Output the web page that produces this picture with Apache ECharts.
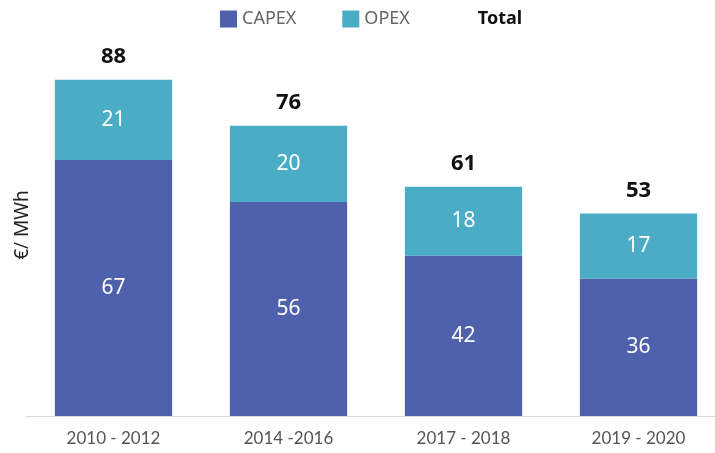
<!DOCTYPE html>
<html>
<head>
<meta charset="utf-8">
<title>CAPEX / OPEX</title>
<script src="https://cdn.jsdelivr.net/npm/echarts@6/dist/echarts.min.js"></script>
<style>
  html, body { margin: 0; padding: 0; background: #fff; }
  #chart { width: 715px; height: 453px; }
</style>
</head>
<body>
<div id="chart"></div>
<script>
var periods = ['2010 - 2012', '2014 -2016', '2017 - 2018', '2019 - 2020'];
var capex = [67, 56, 42, 36];
var opex = [21, 20, 18, 17];
var totals = [88, 76, 61, 53];

var myChart = echarts.init(document.getElementById('chart'));
var option = {
  animation: false,
  textStyle: { fontFamily: 'Noto Sans' },
  legend: {
    top: 5,
    left: 215,
    icon: 'rect',
    itemWidth: 17,
    itemHeight: 17,
    itemGap: 46,
    textStyle: { fontSize: 18, color: '#666', fontFamily: 'Noto Sans' },
    data: [
      { name: 'CAPEX' },
      { name: 'OPEX' },
      { name: 'Total', icon: 'none', textStyle: { fontWeight: 'bold', color: '#111', fontSize: 18 } }
    ]
  },
  grid: { left: 26, width: 700, top: 34, bottom: 37, outerBoundsMode: 'none' },
  xAxis: {
    type: 'category',
    data: periods,
    axisTick: { show: false },
    axisLine: { lineStyle: { color: '#d9d9d9', width: 1 } },
    axisLabel: { color: '#555', fontSize: 17, margin: 14, fontFamily: 'Lato' }
  },
  yAxis: {
    type: 'value',
    min: 0,
    max: 100,
    name: '€/ MWh',
    nameLocation: 'middle',
    nameGap: -6,
    nameTextStyle: { fontSize: 19, color: '#222', fontFamily: 'Noto Sans' },
    axisLabel: { show: false },
    axisTick: { show: false },
    axisLine: { show: false },
    splitLine: { show: false }
  },
  series: [
    {
      name: 'CAPEX',
      type: 'bar',
      stack: 'cost',
      barWidth: '67%',
      data: capex,
      itemStyle: { color: '#4f61ad' },
      label: { show: true, position: 'inside', color: '#fff', fontSize: 21 }
    },
    {
      name: 'OPEX',
      type: 'bar',
      stack: 'cost',
      data: opex,
      itemStyle: { color: '#4bacc6' },
      label: { show: true, position: 'inside', color: '#fff', fontSize: 21 }
    },
    {
      name: 'Total',
      type: 'bar',
      stack: 'cost',
      data: totals.map(function () { return 0; }),
      itemStyle: { color: 'transparent' },
      label: {
        show: true,
        position: 'top',
        distance: 12,
        color: '#111',
        fontSize: 22,
        fontWeight: 'bold',
        formatter: function (p) { return totals[p.dataIndex]; }
      }
    }
  ]
};
myChart.setOption(option);
</script>
</body>
</html>
